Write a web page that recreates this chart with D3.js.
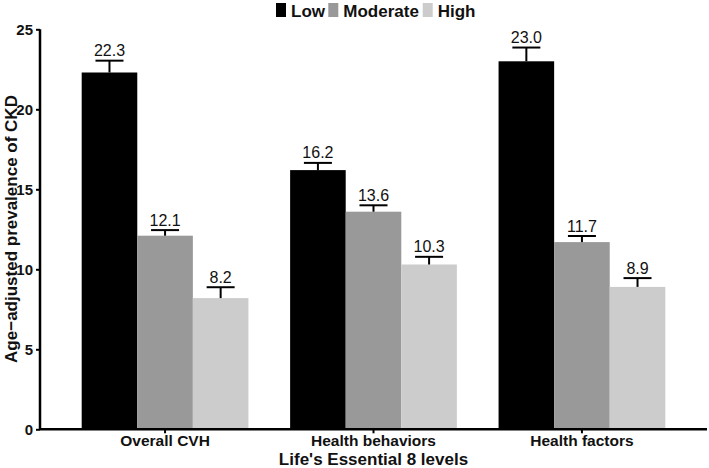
<!DOCTYPE html>
<html>
<head>
<meta charset="utf-8">
<script src="https://cdn.jsdelivr.net/npm/d3@7"></script>
<style>
body { margin: 0; background: #fff; }
svg text { font-family: "Liberation Sans", Arial, sans-serif; }
</style>
</head>
<body>
<div id="chart"></div>
<script>
// Data
var categories = ["Overall CVH", "Health behaviors", "Health factors"];
var levels = ["Low", "Moderate", "High"];
var low = [22.3, 16.2, 23.0];
var moderate = [12.1, 13.6, 11.7];
var high = [8.2, 10.3, 8.9];
var lowErr = [0.74, 0.45, 0.86];
var moderateErr = [0.35, 0.4, 0.38];
var highErr = [0.68, 0.48, 0.55];
var yTicks = [0, 5, 10, 15, 20, 25];
var colors = ["#000000", "#999999", "#cccccc"];

var width = 709, height = 468;

var svg = d3.select("#chart").append("svg")
	.attr("width", width)
	.attr("height", height);

var x0 = d3.scaleBand()
	.domain(categories)
	.range([40, 707])
	.paddingInner(0.2)
	.paddingOuter(0.2);

var x1 = d3.scaleBand()
	.domain(levels)
	.range([0, x0.bandwidth()]);

var y = d3.scaleLinear()
	.domain([0, 25])
	.range([429.3, 29.3]);

var color = d3.scaleOrdinal().domain(levels).range(colors);

// build rows
var series = [low, moderate, high];
var errs = [lowErr, moderateErr, highErr];
var rows = [];
categories.forEach(function(c, i){
	levels.forEach(function(l, j){
		rows.push({cat: c, level: l, value: series[j][i], err: errs[j][i]});
	});
});

// bars
svg.append("g").selectAll("rect")
	.data(rows)
	.join("rect")
	.attr("x", function(d){ return x0(d.cat) + x1(d.level); })
	.attr("y", function(d){ return y(d.value); })
	.attr("width", x1.bandwidth())
	.attr("height", function(d){ return y(0) - y(d.value); })
	.attr("fill", function(d){ return color(d.level); });

// error bars
var eb = svg.append("g").attr("stroke", "#000").attr("stroke-width", 2);
rows.forEach(function(d){
	var cx = x0(d.cat) + x1(d.level) + x1.bandwidth() / 2;
	eb.append("line")
		.attr("x1", cx).attr("x2", cx)
		.attr("y1", y(d.value)).attr("y2", y(d.value + d.err));
	eb.append("line")
		.attr("x1", cx - 14).attr("x2", cx + 14)
		.attr("y1", y(d.value + d.err)).attr("y2", y(d.value + d.err));
});

// value labels
svg.append("g").selectAll("text")
	.data(rows)
	.join("text")
	.attr("x", function(d){ return x0(d.cat) + x1(d.level) + x1.bandwidth() / 2; })
	.attr("y", function(d){ return y(d.value + d.err) - 4.5; })
	.attr("text-anchor", "middle")
	.attr("font-size", 16)
	.attr("fill", "#111")
	.text(function(d){ return d.value.toFixed(1); });

// y axis
var yAxis = svg.append("g")
	.attr("transform", "translate(40,0)")
	.call(d3.axisLeft(y).tickValues(yTicks).tickSize(4).tickPadding(3));
yAxis.select(".domain").attr("stroke-width", 2.5).attr("d", "M0," + y(25) + "V" + y(0));
yAxis.selectAll(".tick line").attr("stroke-width", 2);
yAxis.selectAll("text")
	.attr("font-size", 15)
	.attr("font-weight", "bold")
	.attr("fill", "#111");

// x axis
var xAxis = svg.append("g")
	.attr("transform", "translate(0," + y(0) + ")")
	.call(d3.axisBottom(x0).tickSize(4).tickPadding(2));
xAxis.select(".domain").attr("stroke-width", 2.5).attr("d", "M40,0H707");
xAxis.selectAll(".tick line").attr("stroke-width", 2);
xAxis.selectAll("text")
	.attr("font-size", 15.5)
	.attr("font-weight", "bold")
	.attr("fill", "#111");

// axis titles
svg.append("text")
	.attr("x", 373.5)
	.attr("y", 465)
	.attr("text-anchor", "middle")
	.attr("font-size", 17)
	.attr("font-weight", "bold")
	.attr("fill", "#111")
	.text("Life's Essential 8 levels");

svg.append("text")
	.attr("transform", "translate(17,229) rotate(-90)")
	.attr("text-anchor", "middle")
	.attr("font-size", 17)
	.attr("font-weight", "bold")
	.attr("fill", "#111")
	.text("Age\u2212adjusted prevalence of CKD");

// legend
var legendX = [276, 328.3, 422.7];
var legend = svg.append("g");
levels.forEach(function(l, i){
	legend.append("rect")
		.attr("x", legendX[i]).attr("y", 3)
		.attr("width", 10).attr("height", 14)
		.attr("fill", color(l));
	legend.append("text")
		.attr("x", legendX[i] + 15)
		.attr("y", 16.5)
		.attr("font-size", 17)
		.attr("font-weight", "bold")
		.attr("fill", "#111")
		.text(l);
});
</script>
</body>
</html>
